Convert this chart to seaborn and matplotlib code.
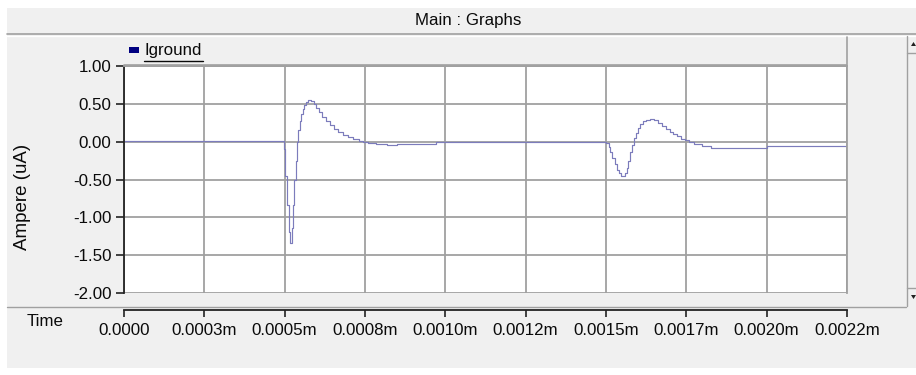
import matplotlib
matplotlib.use("Agg")
import matplotlib.pyplot as plt
import seaborn as sns
import pandas as pd
from matplotlib.patches import Rectangle, Polygon
from matplotlib.lines import Line2D

# ---------------- data ----------------
series_name = "Iground"
time_s = [0.0, 0.000498, 0.000501, 0.000508, 0.000512, 0.000516, 0.000522, 0.000525,
          0.000529, 0.000534, 0.000539, 0.000543, 0.000547, 0.000551, 0.000556, 0.000561,
          0.000567, 0.000573, 0.000582, 0.000590, 0.000598, 0.000607, 0.000617, 0.000628,
          0.000640, 0.000653, 0.000667, 0.000682, 0.000697, 0.000713, 0.000730, 0.000745,
          0.000760, 0.000785, 0.000817, 0.000850, 0.000972, 0.001117,
          0.001500, 0.001508, 0.001514, 0.001520, 0.001527, 0.001534, 0.001541, 0.001548,
          0.001558, 0.001564, 0.001570, 0.001576, 0.001582, 0.001588, 0.001594, 0.001600,
          0.001607, 0.001615, 0.001624, 0.001638, 0.001650, 0.001662, 0.001674, 0.001686,
          0.001698, 0.001710, 0.001722, 0.001734, 0.001746, 0.001758, 0.001775, 0.001800,
          0.001827, 0.002001, 0.002250]
current_uA = [0.005, -0.10, -0.45, -0.84, -1.19, -1.34, -1.14, -0.84,
              -0.50, -0.25, 0.00, 0.15, 0.27, 0.36, 0.43, 0.48,
              0.52, 0.55, 0.54, 0.50, 0.45, 0.39, 0.33, 0.27,
              0.22, 0.17, 0.13, 0.09, 0.06, 0.03, 0.01, -0.01,
              -0.02, -0.03, -0.05, -0.03, -0.01, 0.00,
              -0.02, -0.07, -0.14, -0.22, -0.30, -0.37, -0.42, -0.45,
              -0.42, -0.35, -0.25, -0.14, -0.04, 0.05, 0.12, 0.18,
              0.23, 0.27, 0.29, 0.30, 0.28, 0.25, 0.21, 0.17,
              0.13, 0.10, 0.07, 0.04, 0.02, 0.00, -0.03, -0.06,
              -0.09, -0.06, -0.06]
x_ticks = [0.0, 0.00025, 0.0005, 0.00075, 0.001, 0.00125, 0.0015, 0.00175, 0.002, 0.00225]
x_tick_labels = ["0.0000", "0.0003m", "0.0005m", "0.0008m", "0.0010m",
                 "0.0012m", "0.0015m", "0.0017m", "0.0020m", "0.0022m"]
y_ticks = [1.0, 0.5, 0.0, -0.5, -1.0, -1.5, -2.0]
y_tick_labels = ["1.00", "0.50", "0.00", "-0.50", "-1.00", "-1.50", "-2.00"]
title_text = "Main : Graphs"
y_label = "Ampere (uA)"
x_label = "Time"

df = pd.DataFrame({"t": time_s, "i": current_uA})

# ---------------- style ----------------
sns.set_style("white")
plt.rcParams['font.family'] = ['Liberation Sans', 'DejaVu Sans']

W, H = 916, 375
fig = plt.figure(figsize=(W / 100, H / 100), dpi=100, facecolor="white")

def fx(px):
    return px / W

def fy(py):
    return 1 - py / H

BG = "#f0f0f0"
EDGE = "#a0a0a0"
TXT = "#0a0a0a"

# window background
fig.patches.append(Rectangle((fx(7), fy(368)), fx(916) - fx(7), fy(8) - fy(368),
                             transform=fig.transFigure, facecolor=BG, edgecolor="none",
                             zorder=-10))
# title bar bottom line
fig.lines.append(Line2D([fx(7), fx(916)], [fy(34), fy(34)], transform=fig.transFigure,
                        color=EDGE, lw=1.2))
fig.lines.append(Line2D([fx(7), fx(916)], [fy(35.5), fy(35.5)], transform=fig.transFigure,
                        color="white", lw=1.0))
fig.text(fx(468), fy(21), title_text, ha="center", va="center", fontsize=12.2, color=TXT)

# legend bar
fig.patches.append(Rectangle((fx(124), fy(65)), fx(847) - fx(124), fy(37) - fy(65),
                             transform=fig.transFigure, facecolor=BG, edgecolor="none",
                             zorder=1))
fig.lines.append(Line2D([fx(124), fx(847), fx(847)], [fy(65), fy(65), fy(37)],
                        transform=fig.transFigure, color=EDGE, lw=1.2, zorder=2))
fig.patches.append(Rectangle((fx(128.5), fy(53)), fx(10), fy(47) - fy(53),
                             transform=fig.transFigure, facecolor="#000080",
                             edgecolor="none", zorder=2))
fig.text(fx(144), fy(51), series_name, ha="left", va="center", fontsize=12.2, color=TXT)
fig.lines.append(Line2D([fx(144), fx(203)], [fy(61), fy(61)], transform=fig.transFigure,
                        color=TXT, lw=1.0))

# panel bottom separator
fig.lines.append(Line2D([fx(7), fx(906)], [fy(306.5), fy(306.5)], transform=fig.transFigure,
                        color=EDGE, lw=1.0))

# scroll bar on the right
fig.lines.append(Line2D([fx(906.5), fx(906.5)], [fy(36), fy(306)], transform=fig.transFigure,
                        color=EDGE, lw=1.0))
fig.lines.append(Line2D([fx(907), fx(916)], [fy(53), fy(53)], transform=fig.transFigure,
                        color=EDGE, lw=1.0))
fig.lines.append(Line2D([fx(907), fx(916)], [fy(288), fy(288)], transform=fig.transFigure,
                        color=EDGE, lw=1.0))
fig.patches.append(Polygon([[fx(911), fy(46)], [fx(916), fy(46)], [fx(913.5), fy(42)]],
                           closed=True, transform=fig.transFigure, facecolor="#222222",
                           edgecolor="none"))
fig.patches.append(Polygon([[fx(911), fy(295)], [fx(916), fy(295)], [fx(913.5), fy(299)]],
                           closed=True, transform=fig.transFigure, facecolor="#222222",
                           edgecolor="none"))

# ---------------- axes ----------------
ax = fig.add_axes([fx(124), fy(293), fx(847) - fx(124), fy(66) - fy(293)])
ax.set_facecolor("white")

sns.lineplot(data=df, x="t", y="i", ax=ax, estimator=None, sort=False,
             drawstyle="steps-post", color="#7c7cbc", linewidth=0.85, legend=False)

ax.set_xlim(x_ticks[0], x_ticks[-1])
ax.set_ylim(-2.0, 1.0)
ax.set_xticks(x_ticks)
ax.set_xticklabels(x_tick_labels)
ax.set_yticks(y_ticks)
ax.set_yticklabels(y_tick_labels)
ax.set_xlabel("")
ax.set_ylabel("")

ax.grid(True, color=EDGE, lw=1.3)
ax.set_axisbelow(True)

for s in ["top", "right"]:
    ax.spines[s].set_color(EDGE)
    ax.spines[s].set_linewidth(1.3)
ax.spines["left"].set_color("#222222")
ax.spines["left"].set_linewidth(1.3)
ax.spines["bottom"].set_position(("outward", 12.5))
ax.spines["bottom"].set_color("#222222")
ax.spines["bottom"].set_linewidth(1.3)

ax.tick_params(axis="y", direction="out", length=6, width=1.2, color="#222222",
               pad=3, labelsize=12.2, labelcolor=TXT, left=True)
ax.tick_params(axis="x", direction="out", length=5, width=1.2, color="#222222",
               pad=4, labelsize=12.2, labelcolor=TXT, bottom=True)

fig.text(fx(23), fy(197), y_label, rotation=90, ha="center", va="center",
         fontsize=13.5, color=TXT)
fig.text(fx(45), fy(322), x_label, ha="center", va="center", fontsize=12.2, color=TXT)

fig.savefig("out.png", dpi=100, facecolor=fig.get_facecolor())
